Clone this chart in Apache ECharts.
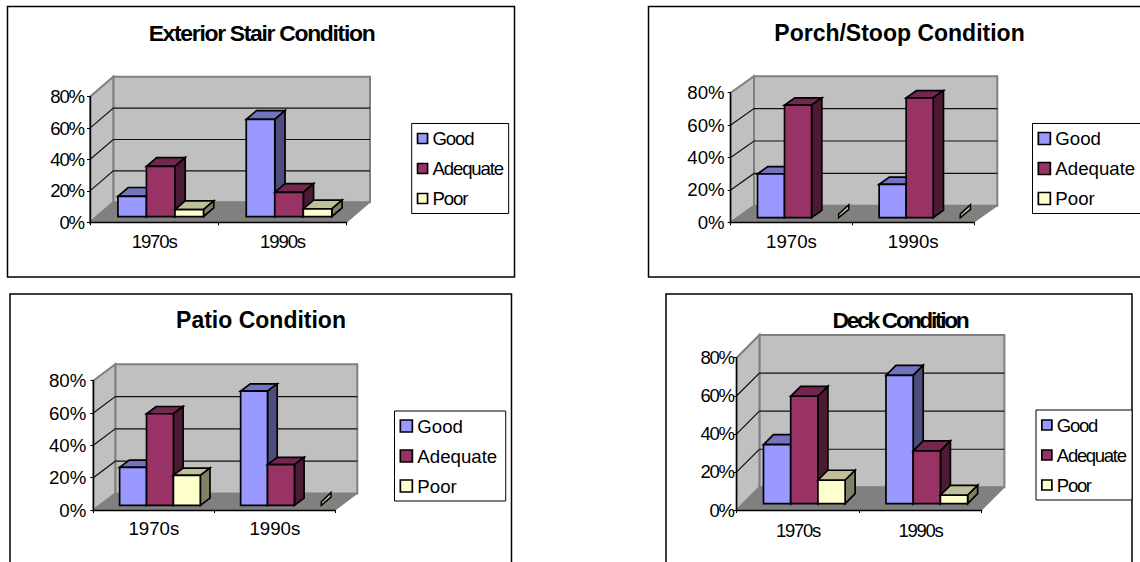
<!DOCTYPE html>
<html>
<head>
<meta charset="utf-8">
<style>
html,body{margin:0;padding:0;background:#fff;overflow:hidden}
#c{width:1140px;height:562px}
text[style*="18.6px"]{letter-spacing:-1.15px}
text[style*="18.5px"]{letter-spacing:-1.3px}
text[style*="22.9px"]{letter-spacing:-1.3px}
text[style*="22.8px"]{letter-spacing:-2.3px}
</style>
<script src="https://cdn.jsdelivr.net/npm/echarts@6/dist/echarts.min.js"></script>
</head>
<body>
<div id="c"></div>
<script>
var categories = ['1970s', '1990s'];
var seriesNames = ['Good', 'Adequate', 'Poor'];
var yTicks = [0, 20, 40, 60, 80];

var stairGood = [13, 62];
var stairAdequate = [32, 15.5];
var stairPoor = [4.5, 5];

var porchGood = [27, 20.6];
var porchAdequate = [69.5, 74];
var porchPoor = [0, 0];

var patioGood = [23.5, 70.7];
var patioAdequate = [56.7, 25.2];
var patioPoor = [18.6, 0];

var deckGood = [31, 67.4];
var deckAdequate = [56.4, 27.7];
var deckPoor = [12.3, 4.4];

var panels = [
  { title: 'Exterior Stair Condition', values: [stairGood, stairAdequate, stairPoor],
    tx: 261.5, tc: 33, ts: 22.9, fs: 18.6, mx: 9.5, my: 6, l: 90, r: 346.7, y0: 222.3, y80: 96.7, dx: 23.3, dy: 20,
    lg: { l: 411.7, t: 123.5, pr: -3.5, fs: 18.6, sw: 10 }, frame: [7.5, 6.5, 507, 270.5] },
  { title: 'Porch/Stoop Condition', values: [porchGood, porchAdequate, porchPoor],
    tx: 899.5, tc: 33, ts: 23, fs: 18.67, mx: 9.5, my: 6, l: 730.7, r: 974, y0: 222.3, y80: 92.7, dx: 23.3, dy: 16.5,
    lg: { l: 1032.5, t: 123.5, pr: 30, fs: 18.67, sw: 12 }, frame: [648.5, 6.5, 520, 270.5] },
  { title: 'Patio Condition', values: [patioGood, patioAdequate, patioPoor],
    tx: 261, tc: 320, ts: 23, fs: 18.67, mx: 9, my: 7, l: 93.3, r: 335.3, y0: 510, y80: 380.7, dx: 22, dy: 16.5,
    lg: { l: 394.5, t: 411, pr: 8.5, fs: 18.67, sw: 12 }, frame: [10, 294, 501.5, 300] },
  { title: 'Deck Condition', values: [deckGood, deckAdequate, deckPoor],
    tx: 900, tc: 320, ts: 22.8, fs: 18.5, mx: 11, my: 3, l: 736.7, r: 981.7, y0: 510, y80: 357.7, dx: 22.7, dy: 22.7,
    lg: { l: 1036, t: 410, pr: -4, fs: 18.5, sw: 10 }, frame: [666, 294, 466, 300] }
];

var faceColors = {
  Good: { front: '#9999FF', top: '#7373BF', side: '#4D4D80' },
  Adequate: { front: '#993366', top: '#732650', side: '#4D1A33' },
  Poor: { front: '#FFFFCC', top: '#BFBF99', side: '#808066' }
};
var font = '"Liberation Sans", Arial, sans-serif';
var F0 = 0.28, F1 = 0.72;   // depth range occupied by the bars

function poly(points, fill, stroke, lw) {
  return { type: 'polygon', shape: { points: points },
           style: { fill: fill, stroke: stroke, lineWidth: lw, lineJoin: 'miter' } };
}

function wallRenderer(p) {
  return function (params, api) {
    var cs = params.coordSys, L = cs.x, R = cs.x + cs.width;
    var yz = api.coord([0, 0])[1], yt = api.coord([0, 80])[1];
    var kids = [
      poly([[L + p.dx, yt - p.dy], [R + p.dx, yt - p.dy], [R + p.dx, yz - p.dy], [L + p.dx, yz - p.dy]], '#C0C0C0', '#808080', 2),
      poly([[L, yz], [L + p.dx, yz - p.dy], [L + p.dx, yt - p.dy], [L, yt]], '#C0C0C0', '#808080', 2),
      poly([[L, yz], [R, yz], [R + p.dx, yz - p.dy], [L + p.dx, yz - p.dy]], '#808080', '#808080', 1)
    ];
    yTicks.slice(1, 4).forEach(function (t) {
      var y = api.coord([0, t])[1];
      kids.push({ type: 'polyline', shape: { points: [[L, y], [L + p.dx, y - p.dy], [R + p.dx, y - p.dy]] },
                  style: { fill: 'none', stroke: '#111', lineWidth: 1.2 } });
    });
    return { type: 'group', children: kids };
  };
}

function barRenderer(p, si, name) {
  var c = faceColors[name];
  return function (params, api) {
    var cat = api.value(0), v = api.value(1);
    var base = api.coord([cat, 0]), top = api.coord([cat, v]);
    var bw = api.size([1, 0])[0] / 4.5;
    var fx = F0 * p.dx, fy = F0 * p.dy, bx = (F1 - F0) * p.dx, by = (F1 - F0) * p.dy;
    var x1 = base[0] - 1.5 * bw + si * bw + fx, x2 = x1 + bw;
    var yb = base[1] - fy, yt = top[1] - fy;
    if (v === 0) {
      return poly([[x2, yb], [x2, yb - 3.5], [x2 + bx, yb - by - 5.7], [x2 + bx, yb - by - 1]], c.top, '#000', 1.5);
    }
    return { type: 'group', children: [
      poly([[x1, yt], [x2, yt], [x2 + bx, yt - by], [x1 + bx, yt - by]], c.top, '#000', 1.7),
      poly([[x2, yt], [x2 + bx, yt - by], [x2 + bx, yb - by], [x2, yb]], c.side, '#000', 1.7),
      poly([[x1, yt], [x2, yt], [x2, yb], [x1, yb]], c.front, '#000', 1.7)
    ] };
  };
}

var option = { animation: false, backgroundColor: '#fff', title: [], grid: [], xAxis: [], yAxis: [], legend: [], series: [], graphic: [] };

panels.forEach(function (p, i) {
  option.graphic.push({ type: 'rect', silent: true, z: 0,
    shape: { x: p.frame[0], y: p.frame[1], width: p.frame[2], height: p.frame[3] },
    style: { fill: 'none', stroke: '#000', lineWidth: 1.5 } });
  option.title.push({ text: p.title, left: p.tx, top: p.tc - p.ts * 0.62 + 3, textAlign: 'center', padding: 0,
    textStyle: { fontFamily: font, fontWeight: 'bold', fontSize: p.ts, color: '#000' } });
  option.grid.push({ left: p.l, top: p.y80, width: p.r - p.l, height: p.y0 - p.y80, containLabel: false, show: false });
  option.xAxis.push({ type: 'category', gridIndex: i, data: categories, z: 3,
    axisLine: { lineStyle: { color: '#000', width: 1.4 } },
    axisTick: { show: true, length: 3, lineStyle: { color: '#000' } },
    splitLine: { show: false },
    axisLabel: { fontFamily: font, fontSize: p.fs, color: '#000', margin: p.mx, interval: 0 } });
  option.yAxis.push({ type: 'value', gridIndex: i, min: 0, max: 80, interval: 20, z: 3,
    axisLine: { show: true, lineStyle: { color: '#000', width: 1.4 } },
    axisTick: { show: true, length: 3, lineStyle: { color: '#000' } },
    splitLine: { show: false },
    axisLabel: { fontFamily: font, fontSize: p.fs, color: '#000', margin: p.my, padding: [2, 0, 0, 0], formatter: '{value}%' } });
  option.legend.push({ orient: 'vertical', left: p.lg.l, top: p.lg.t, data: seriesNames,
    selectedMode: false, borderColor: '#000', borderWidth: 1, backgroundColor: '#fff',
    padding: [4, p.lg.pr, 4, 5], itemWidth: p.lg.sw, itemHeight: p.lg.sw, itemGap: 8,
    icon: 'rect', itemStyle: { borderColor: '#000', borderWidth: 1.7 },
    textStyle: { fontFamily: font, fontSize: p.lg.fs, lineHeight: 20, padding: [0, 0, 2, 0], color: '#000' } });
  option.series.push({ type: 'custom', name: 'walls' + i, xAxisIndex: i, yAxisIndex: i, z: 1, silent: true, clip: false,
    data: [[0, 0]], renderItem: wallRenderer(p) });
  seriesNames.forEach(function (name, si) {
    option.series.push({ type: 'custom', name: name, xAxisIndex: i, yAxisIndex: i, z: 4, clip: false,
      itemStyle: { color: faceColors[name].front, borderColor: '#000' },
      encode: { x: 0, y: 1 },
      data: p.values[si].map(function (v, k) { return [k, v]; }),
      renderItem: barRenderer(p, si, name) });
  });
});

var chart = echarts.init(document.getElementById('c'), null, { renderer: 'svg' });
chart.setOption(option);
</script>
</body>
</html>
